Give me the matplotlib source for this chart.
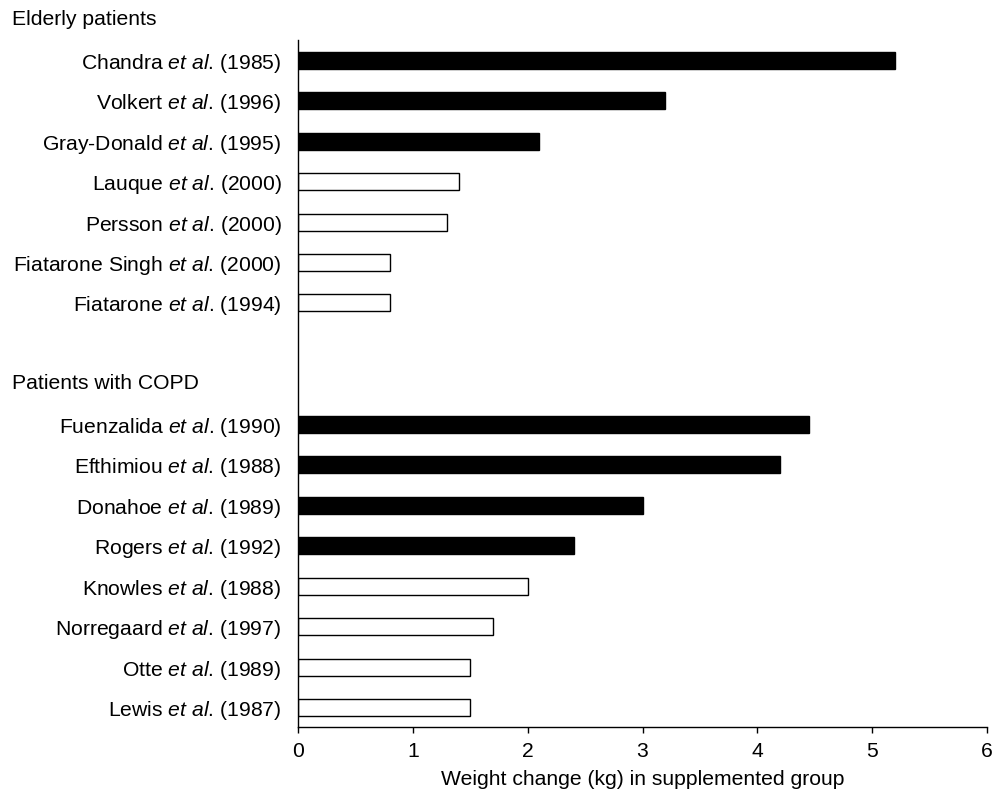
import matplotlib
matplotlib.use('Agg')
import matplotlib.pyplot as plt
import matplotlib.transforms as mtransforms
import numpy as np

plt.rcParams['font.family'] = ['Liberation Sans', 'DejaVu Sans']
plt.rcParams['mathtext.fontset'] = 'custom'
plt.rcParams['mathtext.rm'] = 'Liberation Sans'
plt.rcParams['mathtext.it'] = 'Liberation Sans:italic'

# data
elderly_names = ['Chandra', 'Volkert', 'Gray-Donald', 'Lauque', 'Persson',
                 'Fiatarone Singh', 'Fiatarone']
elderly_years = ['1985', '1996', '1995', '2000', '2000', '2000', '1994']
elderly_values = [5.2, 3.2, 2.1, 1.4, 1.3, 0.8, 0.8]
elderly_filled = [True, True, True, False, False, False, False]

copd_names = ['Fuenzalida', 'Efthimiou', 'Donahoe', 'Rogers', 'Knowles',
              'Norregaard', 'Otte', 'Lewis']
copd_years = ['1990', '1988', '1989', '1992', '1988', '1997', '1989', '1987']
copd_values = [4.45, 4.2, 3.0, 2.4, 2.0, 1.7, 1.5, 1.5]
copd_filled = [True, True, True, True, False, False, False, False]

group_titles = ['Elderly patients', 'Patients with COPD']

# slot positions (top = 0), 2 empty slots between groups
pos_elderly = np.arange(len(elderly_values))
pos_copd = np.arange(len(copd_values)) + len(elderly_values) + 2
positions = np.concatenate([pos_elderly, pos_copd])
values = elderly_values + copd_values
filled = elderly_filled + copd_filled
labels = ['%s $\\mathit{et\\ al}$. (%s)' % (n, y) for n, y in
          zip(elderly_names + copd_names, elderly_years + copd_years)]

fs = 15.2

fig = plt.figure(figsize=(9.94, 7.92), dpi=100)
ax = fig.add_axes([0.2998, 0.0821, 0.6932, 0.8674])

for p, v, f in zip(positions, values, filled):
    ax.barh(p, v, height=0.42, color='black' if f else 'white',
            edgecolor='black', linewidth=1.0)

ax.set_xlim(0, 6)
ax.set_ylim(positions[-1] + 0.48, -0.5)
ax.set_yticks(positions)
ax.set_yticklabels(labels, fontsize=fs)
ax.set_xticks(range(7))
ax.tick_params(axis='y', length=0, pad=12)
ax.tick_params(axis='x', length=4, width=1.0, pad=7, labelsize=fs)
ax.set_xlabel('Weight change (kg) in supplemented group', fontsize=fs, labelpad=6)

for s in ['top', 'right']:
    ax.spines[s].set_visible(False)
for s in ['left', 'bottom']:
    ax.spines[s].set_linewidth(1.0)

trans = mtransforms.blended_transform_factory(fig.transFigure, ax.transData)
ax.text(0.012, pos_elderly[0] - 1, group_titles[0], transform=trans,
        ha='left', va='center', fontsize=fs)
ax.text(0.012, pos_copd[0] - 1, group_titles[1], transform=trans,
        ha='left', va='center', fontsize=fs)

fig.savefig('out.png', dpi=100)
